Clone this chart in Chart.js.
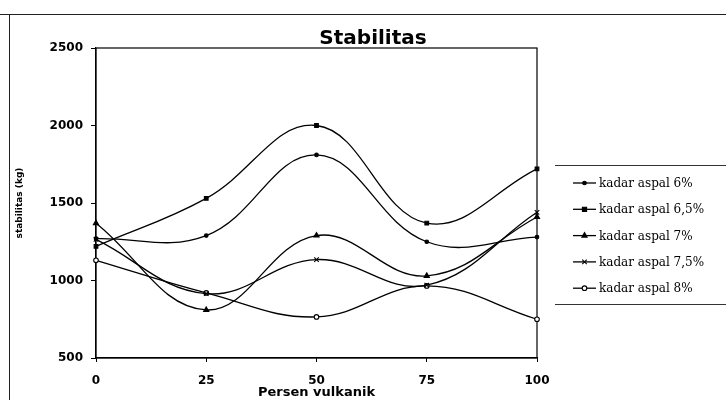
<!DOCTYPE html>
<html>
<head>
<meta charset="utf-8">
<title>Stabilitas</title>
<script src="https://cdn.jsdelivr.net/npm/chart.js@4"></script>
<style>
  html, body { margin: 0; padding: 0; background: #fff; }
  #wrap { position: relative; width: 726px; height: 400px; }
</style>
</head>
<body>
<div id="wrap"><canvas id="chart-stabilitas" width="726" height="400"></canvas></div>
<script>
// values (kg)
const persenVulkanik = ['0', '25', '50', '75', '100'];
const seriesNames = ['kadar aspal 6%', 'kadar aspal 6,5%', 'kadar aspal 7%', 'kadar aspal 7,5%', 'kadar aspal 8%'];
const aspal6 = [1270, 1290, 1810, 1250, 1280];
const aspal65 = [1220, 1530, 2000, 1370, 1720];
const aspal7 = [1370, 810, 1290, 1030, 1410];
const aspal75 = [1265, 915, 1135, 970, 1440];
const aspal8 = [1130, 920, 765, 965, 750];
const yTicks = [500, 1000, 1500, 2000, 2500];

const markers = [
  { style: 'circle', radius: 1.8, fill: '#000' },
  { style: 'rect', radius: 2.6, fill: '#000' },
  { style: 'triangle', radius: 3, fill: '#000' },
  { style: 'crossRot', radius: 3.2, fill: '#000' },
  { style: 'circle', radius: 2.3, fill: '#fff' },
];

const seriesData = [aspal6, aspal65, aspal7, aspal75, aspal8];

const datasets = seriesData.map((vals, i) => ({
  label: seriesNames[i],
  data: vals,
  borderColor: '#000',
  borderWidth: 1.3,
  tension: 0.4,
  pointStyle: markers[i].style,
  pointRadius: markers[i].radius,
  pointBackgroundColor: markers[i].fill,
  pointBorderColor: '#000',
  pointBorderWidth: 1.1,
}));

function drawMarker(ctx, m, x, y) {
  const r = m.radius;
  ctx.save();
  ctx.fillStyle = m.fill;
  ctx.strokeStyle = '#000';
  ctx.lineWidth = 1.1;
  ctx.beginPath();
  if (m.style === 'circle') {
    ctx.arc(x, y, r, 0, Math.PI * 2);
    ctx.fill(); ctx.stroke();
  } else if (m.style === 'rect') {
    ctx.rect(x - r * 0.8, y - r * 0.8, r * 1.6, r * 1.6);
    ctx.fill(); ctx.stroke();
  } else if (m.style === 'triangle') {
    ctx.moveTo(x, y - r);
    ctx.lineTo(x + r * 0.87, y + r * 0.5);
    ctx.lineTo(x - r * 0.87, y + r * 0.5);
    ctx.closePath();
    ctx.fill(); ctx.stroke();
  } else if (m.style === 'crossRot') {
    const d = r * 0.7;
    ctx.moveTo(x - d, y - d); ctx.lineTo(x + d, y + d);
    ctx.moveTo(x + d, y - d); ctx.lineTo(x - d, y + d);
    ctx.stroke();
  }
  ctx.restore();
}

// frame, plot box, title and legend the way the excel sheet had them
const sheetDecor = {
  id: 'sheetDecor',
  beforeDraw(chart) {
    const ctx = chart.ctx;
    ctx.save();
    ctx.fillStyle = '#fff';
    ctx.fillRect(0, 0, chart.width, chart.height);
    ctx.strokeStyle = '#222';
    ctx.lineWidth = 1;
    ctx.beginPath();
    ctx.moveTo(0, 14.5); ctx.lineTo(chart.width, 14.5);
    ctx.moveTo(9.5, 14.5); ctx.lineTo(9.5, chart.height);
    ctx.stroke();
    ctx.restore();
  },
  beforeDatasetsDraw(chart) {
    const { ctx, chartArea: a } = chart;
    ctx.save();
    ctx.strokeStyle = '#000';
    ctx.lineWidth = 1.2;
    ctx.strokeRect(a.left, a.top, a.right - a.left, a.bottom - a.top);
    ctx.restore();
  },
  afterDraw(chart) {
    const ctx = chart.ctx;
    ctx.save();
    ctx.fillStyle = '#000';
    ctx.font = 'bold 20px "DejaVu Sans"';
    ctx.textAlign = 'center';
    ctx.textBaseline = 'alphabetic';
    ctx.fillText('Stabilitas', 373, 44);

    // legend box
    ctx.strokeStyle = '#333';
    ctx.lineWidth = 1;
    ctx.beginPath();
    ctx.moveTo(555, 165.5); ctx.lineTo(726, 165.5);
    ctx.moveTo(555, 304.5); ctx.lineTo(726, 304.5);
    ctx.stroke();

    ctx.font = '12px "DejaVu Serif"';
    ctx.textAlign = 'left';
    ctx.textBaseline = 'middle';
    chart.data.datasets.forEach((ds, i) => {
      const y = 183 + i * 26.3;
      ctx.strokeStyle = '#000';
      ctx.lineWidth = 1.3;
      ctx.beginPath();
      ctx.moveTo(573, y); ctx.lineTo(596, y);
      ctx.stroke();
      drawMarker(ctx, markers[i], 584.5, y);
      ctx.fillStyle = '#000';
      ctx.fillText(ds.label, 599, y + 1);
    });
    ctx.restore();
  }
};

new Chart(document.getElementById('chart-stabilitas'), {
  type: 'line',
  data: { labels: persenVulkanik, datasets },
  options: {
    responsive: false,
    animation: false,
    layout: { padding: { left: 14, top: 48, right: 189, bottom: 0 } },
    plugins: {
      legend: { display: false },
      tooltip: { enabled: false },
      title: { display: false },
    },
    scales: {
      x: {
        offset: false,
        grid: { drawOnChartArea: false, tickLength: 4, color: '#000' },
        border: { display: true, color: '#000', width: 1.2 },
        ticks: { color: '#000', padding: 12, maxRotation: 0, font: { family: 'DejaVu Sans', weight: 'bold', size: 12 } },
        title: { display: true, text: 'Persen vulkanik', color: '#000', padding: 0,
                 font: { family: 'DejaVu Sans', weight: 'bold', size: 13 } },
        afterFit: s => { s.height = 42; },
      },
      y: {
        min: 500,
        max: 2500,
        afterBuildTicks: s => { s.ticks = yTicks.map(v => ({ value: v })); },
        grid: { drawOnChartArea: false, tickLength: 5, color: '#000' },
        border: { display: true, color: '#000', width: 1.2 },
        ticks: { color: '#000', padding: 8, callback: v => String(v),
                 font: { family: 'DejaVu Sans', weight: 'bold', size: 12 } },
        title: { display: true, text: 'stabilitas (kg)', color: '#000', padding: 0,
                 font: { family: 'DejaVu Sans', weight: 'bold', size: 9 } },
        afterFit: s => { s.width = 82; },
      }
    }
  },
  plugins: [sheetDecor]
});
</script>
</body>
</html>
